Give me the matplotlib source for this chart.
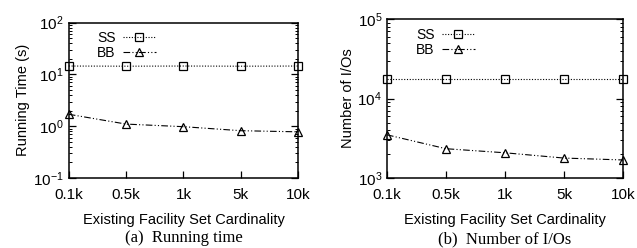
import numpy as np
import matplotlib.pyplot as plt
from matplotlib.ticker import LogLocator, NullFormatter

categories = ['0.1k', '0.5k', '1k', '5k', '10k']
time_ss = [14.5, 14.4, 14.5, 14.4, 14.5]
time_bb = [1.7, 1.1, 0.98, 0.82, 0.78]
io_ss = [17800, 17800, 17800, 17800, 17800]
io_bb = [3500, 2340, 2080, 1785, 1690]

plt.rcParams['font.family'] = ['Liberation Sans', 'DejaVu Sans']
plt.rcParams['font.size'] = 9.5

fig = plt.figure(figsize=(6.37, 2.48), dpi=100)
ax1 = fig.add_axes([0.108, 0.282, 0.360, 0.627])
ax2 = fig.add_axes([0.6075, 0.282, 0.3705, 0.641])

x = np.arange(len(categories))


def style(ax, ss, bb, ylim, ylabel, caption):
    ax.plot(x, ss, linestyle=(0, (1, 1.5)), color='black', linewidth=0.8,
            marker='s', markersize=6, markerfacecolor='none',
            markeredgecolor='black', markeredgewidth=0.9, label='SS',
            clip_on=False)
    ax.plot(x, bb, linestyle=(0, (6, 2, 1, 2, 1, 2)), color='black',
            linewidth=0.8, marker='^', markersize=6, markerfacecolor='none',
            markeredgecolor='black', markeredgewidth=0.9, label='BB',
            clip_on=False)
    ax.set_yscale('log')
    ax.set_ylim(*ylim)
    ax.set_xlim(0, len(categories) - 1)
    ax.set_xticks(x)
    ax.set_xticklabels(categories)
    ax.yaxis.set_major_locator(LogLocator(base=10, numticks=10))
    ax.yaxis.set_minor_locator(LogLocator(base=10, subs=np.arange(2, 10), numticks=10))
    ax.yaxis.set_minor_formatter(NullFormatter())
    ax.tick_params(axis='both', which='both', direction='in', right=True,
                   top=False, labelsize=11)
    ax.tick_params(axis='y', which='major', length=5, width=0.9)
    ax.tick_params(axis='y', which='minor', length=2.5, width=0.7)
    ax.tick_params(axis='x', which='major', length=5, width=0.9, pad=7)
    for s in ax.spines.values():
        s.set_linewidth(1.1)
    ax.set_ylabel(ylabel, fontsize=10.5, labelpad=2)
    ax.set_xlabel('Existing Facility Set Cardinality', fontsize=10.5, labelpad=8)
    ax.legend(loc='upper left', frameon=False, markerfirst=False,
              handlelength=2.4, handletextpad=0.5, labelspacing=0.05,
              fontsize=10, borderaxespad=0, bbox_to_anchor=(0.1, 0.98))
    ax.text(0.5, -0.385, caption, transform=ax.transAxes, ha='center',
            va='center', fontsize=12, family=['Liberation Serif', 'DejaVu Serif'])


style(ax1, time_ss, time_bb, (0.1, 100), 'Running Time (s)', '(a)  Running time')
style(ax2, io_ss, io_bb, (1000, 100000), 'Number of I/Os', '(b)  Number of I/Os')

fig.savefig('out.png', dpi=100)
